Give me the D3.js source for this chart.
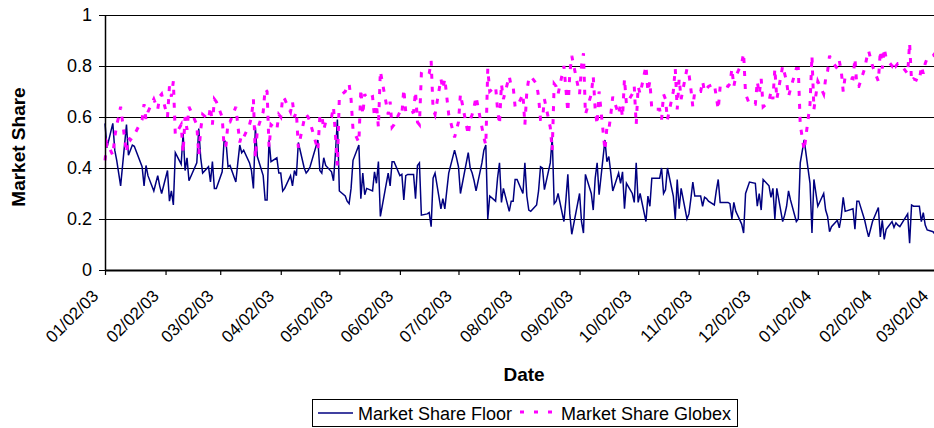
<!DOCTYPE html>
<html>
<head>
<meta charset="utf-8">
<script src="https://cdnjs.cloudflare.com/ajax/libs/d3/7.8.5/d3.min.js"></script>
<style>
  body { margin: 0; background: #fff; }
  svg { display: block; font-family: Arial, "Liberation Sans", sans-serif; }
</style>
</head>
<body>
<script>
// exchange holidays inside the range (no data on these weekdays)
var holidays = ['01/20/03', '02/17/03', '04/18/03', '05/26/03', '07/04/03', '09/01/03',
  '11/27/03', '12/25/03', '01/01/04', '01/19/04', '02/16/04'];
var firstDay = '01/02/03';
var lastDay = '03/02/04';

var tickLabels = ['01/02/03', '02/02/03', '03/02/03', '04/02/03', '05/02/03', '06/02/03',
  '07/02/03', '08/02/03', '09/02/03', '10/02/03', '11/02/03', '12/02/03',
  '01/02/04', '02/02/04', '03/02/04'];

var yTicks = [0, 0.2, 0.4, 0.6, 0.8, 1];

var seriesNames = ['Market Share Floor', 'Market Share Globex'];

// one line per month
var floorShare = [
  0.575, 0.48, 0.575, 0.47, 0.43, 0.38, 0.33, 0.57, 0.45, 0.47, 0.49, 0.485, 0.405, 0.33, 0.41, 0.37, 0.31, 0.34, 0.37, 0.33, 0.30,
  0.39, 0.27, 0.31, 0.255, 0.46, 0.415, 0.535, 0.39, 0.44, 0.35, 0.42, 0.555, 0.44, 0.38, 0.405, 0.345, 0.425, 0.32, 0.32,
  0.385, 0.51, 0.50, 0.405, 0.41, 0.345, 0.42, 0.49, 0.46, 0.47, 0.42, 0.39, 0.32, 0.56, 0.445, 0.37, 0.275, 0.275, 0.51, 0.425, 0.44,
  0.38, 0.38, 0.31, 0.32, 0.37, 0.33, 0.39, 0.37, 0.50, 0.40, 0.38, 0.39, 0.405, 0.51, 0.39, 0.38, 0.44, 0.41, 0.385, 0.35, 0.46,
  0.59, 0.31, 0.29, 0.27, 0.26, 0.32, 0.43, 0.49, 0.28, 0.38, 0.295, 0.32, 0.31, 0.385, 0.34, 0.425, 0.21, 0.38, 0.33, 0.425, 0.425,
  0.37, 0.375, 0.275, 0.37, 0.375, 0.375, 0.28, 0.41, 0.42, 0.215, 0.22, 0.225, 0.17, 0.36, 0.38, 0.24, 0.28, 0.24, 0.31, 0.38, 0.47,
  0.44, 0.405, 0.30, 0.46, 0.40, 0.38, 0.35, 0.31, 0.42, 0.47, 0.49, 0.20, 0.29, 0.27, 0.36, 0.42, 0.265, 0.32, 0.23, 0.27, 0.27, 0.355,
  0.355, 0.30, 0.42, 0.29, 0.235, 0.23, 0.255, 0.31, 0.405, 0.40, 0.315, 0.42, 0.52, 0.26, 0.27, 0.30, 0.19, 0.275, 0.375, 0.22, 0.14,
  0.30, 0.19, 0.145, 0.375, 0.30, 0.235, 0.36, 0.42, 0.295, 0.51, 0.425, 0.445, 0.38, 0.31, 0.38, 0.34, 0.385, 0.24, 0.34, 0.30, 0.265,
  0.42, 0.265, 0.30, 0.19, 0.29, 0.25, 0.36, 0.36, 0.36, 0.40, 0.30, 0.315, 0.40, 0.29, 0.20, 0.355, 0.24, 0.32, 0.20, 0.22, 0.28, 0.345, 0.29,
  0.29, 0.25, 0.285, 0.28, 0.27, 0.255, 0.31, 0.355, 0.265, 0.265, 0.265, 0.26, 0.20, 0.265, 0.23, 0.18, 0.145, 0.30, 0.345,
  0.34, 0.25, 0.30, 0.235, 0.355, 0.33, 0.285, 0.32, 0.20, 0.32, 0.19, 0.215, 0.25, 0.31, 0.275, 0.19, 0.20, 0.42, 0.51, 0.34, 0.145, 0.355,
  0.25, 0.30, 0.235, 0.21, 0.15, 0.17, 0.195, 0.165, 0.21, 0.285, 0.23, 0.24, 0.16, 0.27, 0.27, 0.195, 0.16, 0.13, 0.16, 0.19,
  0.245, 0.13, 0.195, 0.12, 0.16, 0.19, 0.167, 0.185, 0.176, 0.17, 0.22, 0.105, 0.255, 0.25, 0.25, 0.19, 0.225, 0.176, 0.157,
  0.15, 0.14
];

var globexShare = [
  0.43, 0.50, 0.45, 0.52, 0.57, 0.60, 0.64, 0.46, 0.52, 0.51, 0.52, 0.53, 0.59, 0.65, 0.59, 0.62, 0.67, 0.65, 0.63, 0.68, 0.69,
  0.60, 0.72, 0.68, 0.74, 0.53, 0.57, 0.46, 0.60, 0.55, 0.64, 0.57, 0.45, 0.55, 0.61, 0.59, 0.64, 0.57, 0.67, 0.66,
  0.60, 0.48, 0.49, 0.58, 0.58, 0.64, 0.57, 0.50, 0.53, 0.52, 0.57, 0.60, 0.67, 0.44, 0.55, 0.62, 0.71, 0.70, 0.48, 0.57, 0.55,
  0.61, 0.60, 0.68, 0.67, 0.62, 0.66, 0.60, 0.62, 0.48, 0.59, 0.61, 0.60, 0.58, 0.47, 0.60, 0.61, 0.55, 0.58, 0.60, 0.64, 0.53,
  0.41, 0.68, 0.70, 0.72, 0.73, 0.67, 0.55, 0.50, 0.71, 0.61, 0.69, 0.67, 0.68, 0.60, 0.65, 0.56, 0.78, 0.61, 0.66, 0.56, 0.57,
  0.62, 0.61, 0.71, 0.62, 0.61, 0.62, 0.70, 0.58, 0.57, 0.77, 0.76, 0.77, 0.82, 0.63, 0.61, 0.75, 0.71, 0.75, 0.68, 0.61, 0.52,
  0.55, 0.58, 0.69, 0.53, 0.59, 0.61, 0.64, 0.68, 0.56, 0.52, 0.49, 0.79, 0.70, 0.72, 0.63, 0.57, 0.73, 0.67, 0.76, 0.72, 0.72, 0.64,
  0.64, 0.69, 0.57, 0.70, 0.75, 0.76, 0.73, 0.68, 0.59, 0.59, 0.67, 0.56, 0.47, 0.73, 0.72, 0.69, 0.80, 0.71, 0.62, 0.77, 0.84,
  0.69, 0.80, 0.85, 0.61, 0.69, 0.76, 0.63, 0.57, 0.70, 0.47, 0.56, 0.55, 0.61, 0.68, 0.61, 0.65, 0.60, 0.75, 0.65, 0.69, 0.72,
  0.57, 0.72, 0.69, 0.80, 0.70, 0.74, 0.63, 0.63, 0.63, 0.59, 0.69, 0.67, 0.59, 0.70, 0.79, 0.63, 0.75, 0.67, 0.79, 0.77, 0.71, 0.64, 0.70,
  0.70, 0.74, 0.70, 0.71, 0.72, 0.73, 0.68, 0.63, 0.72, 0.73, 0.72, 0.73, 0.79, 0.72, 0.76, 0.81, 0.85, 0.69, 0.65,
  0.65, 0.74, 0.69, 0.75, 0.64, 0.66, 0.70, 0.67, 0.79, 0.67, 0.80, 0.77, 0.74, 0.68, 0.71, 0.79, 0.79, 0.57, 0.47, 0.65, 0.84, 0.63,
  0.74, 0.69, 0.75, 0.78, 0.84, 0.82, 0.79, 0.82, 0.78, 0.70, 0.76, 0.75, 0.83, 0.72, 0.72, 0.79, 0.83, 0.86, 0.83, 0.80,
  0.74, 0.86, 0.79, 0.87, 0.83, 0.80, 0.82, 0.80, 0.81, 0.81, 0.77, 0.89, 0.74, 0.75, 0.74, 0.80, 0.77, 0.81, 0.83,
  0.84, 0.85
];

var margin = { top: 15, right: -1, bottom: 158, left: 105 };
var width = 934 - margin.left - margin.right;
var height = 428 - margin.top - margin.bottom;

var parseDate = d3.timeParse('%m/%d/%y');
var formatDate = d3.timeFormat('%m/%d/%y');

var holidaySet = new Set(holidays.map(function(s) { return +parseDate(s); }));
var dates = d3.timeDay.range(parseDate(firstDay), d3.timeDay.offset(parseDate(lastDay), 1))
  .filter(function(d) {
    var wd = d.getDay();
    return wd !== 0 && wd !== 6 && !holidaySet.has(+d);
  });

if (dates.length !== floorShare.length || dates.length !== globexShare.length) {
  console.warn('length mismatch', dates.length, floorShare.length, globexShare.length);
}

var floorData = dates.map(function(d, i) { return { t: d, v: floorShare[i] }; });
var globexData = dates.map(function(d, i) { return { t: d, v: globexShare[i] }; });

var svg = d3.select('body').append('svg')
  .attr('width', 934)
  .attr('height', 428);

var g = svg.append('g')
  .attr('transform', `translate(${margin.left}, ${margin.top})`);

var xScale = d3.scaleTime()
  .domain([parseDate(firstDay), parseDate(lastDay)])
  .range([0, width]);
var yScale = d3.scaleLinear().domain([0, 1]).range([height, 0]);

// horizontal grid lines
g.append('g')
  .selectAll('line')
  .data(yTicks.filter(function(v) { return v > 0; }))
  .enter().append('line')
  .attr('x1', 0)
  .attr('x2', width)
  .attr('y1', function(d) { return Math.round(yScale(d)) + 0.5; })
  .attr('y2', function(d) { return Math.round(yScale(d)) + 0.5; })
  .attr('stroke', '#000')
  .attr('stroke-width', 1);

var valueLine = d3.line()
  .x(function(d) { return xScale(d.t); })
  .y(function(d) { return yScale(d.v); });

g.append('path')
  .datum(floorData)
  .attr('fill', 'none')
  .attr('stroke', '#000080')
  .attr('stroke-width', 1.5)
  .attr('d', valueLine);

g.append('path')
  .datum(globexData)
  .attr('fill', 'none')
  .attr('stroke', '#ff00ff')
  .attr('stroke-width', 3)
  .attr('stroke-dasharray', '5,8')
  .attr('d', valueLine);

// axes
var xAxis = g.append('g')
  .attr('transform', `translate(0, ${height})`)
  .call(d3.axisBottom(xScale)
    .tickValues(tickLabels.map(parseDate))
    .tickFormat(formatDate)
    .tickSize(5)
    .tickSizeOuter(0));

xAxis.select('.domain').attr('stroke-width', 2);
xAxis.selectAll('.tick line').attr('stroke-width', 1.2);
xAxis.selectAll('text')
  .attr('x', 0)
  .attr('y', 0)
  .attr('dy', 0)
  .attr('transform', 'translate(-6, 27) rotate(-45)')
  .style('text-anchor', 'end')
  .style('font-size', '17px')
  .attr('fill', '#000');

var yAxis = g.append('g')
  .call(d3.axisLeft(yScale)
    .tickValues(yTicks)
    .tickFormat(d3.format(''))
    .tickSize(6)
    .tickPadding(7)
    .tickSizeOuter(0));

yAxis.select('.domain').attr('stroke-width', 1.5);
yAxis.selectAll('text')
  .style('font-size', '18px')
  .attr('fill', '#000');

// axis titles
svg.append('text')
  .attr('transform', 'translate(25, 147) rotate(-90)')
  .attr('text-anchor', 'middle')
  .style('font-size', '19px')
  .style('font-weight', 'bold')
  .text('Market Share');

svg.append('text')
  .attr('x', 524)
  .attr('y', 381)
  .attr('text-anchor', 'middle')
  .style('font-size', '19px')
  .style('font-weight', 'bold')
  .text('Date');

// legend
var legend = svg.append('g')
  .attr('transform', 'translate(312, 399)');

legend.append('rect')
  .attr('x', 0.5)
  .attr('y', 0.5)
  .attr('width', 425)
  .attr('height', 27)
  .attr('fill', '#fff')
  .attr('stroke', '#000');

legend.append('line')
  .attr('x1', 6).attr('x2', 41)
  .attr('y1', 14).attr('y2', 14)
  .attr('stroke', '#000080')
  .attr('stroke-width', 1.5);

legend.append('text')
  .attr('x', 46)
  .attr('y', 21)
  .style('font-size', '18px')
  .text(seriesNames[0]);

legend.append('line')
  .attr('x1', 208).attr('x2', 244)
  .attr('y1', 13).attr('y2', 13)
  .attr('stroke', '#ff00ff')
  .attr('stroke-width', 3)
  .attr('stroke-dasharray', '4,10');

legend.append('text')
  .attr('x', 249)
  .attr('y', 21)
  .style('font-size', '18px')
  .text(seriesNames[1]);
</script>
</body>
</html>
